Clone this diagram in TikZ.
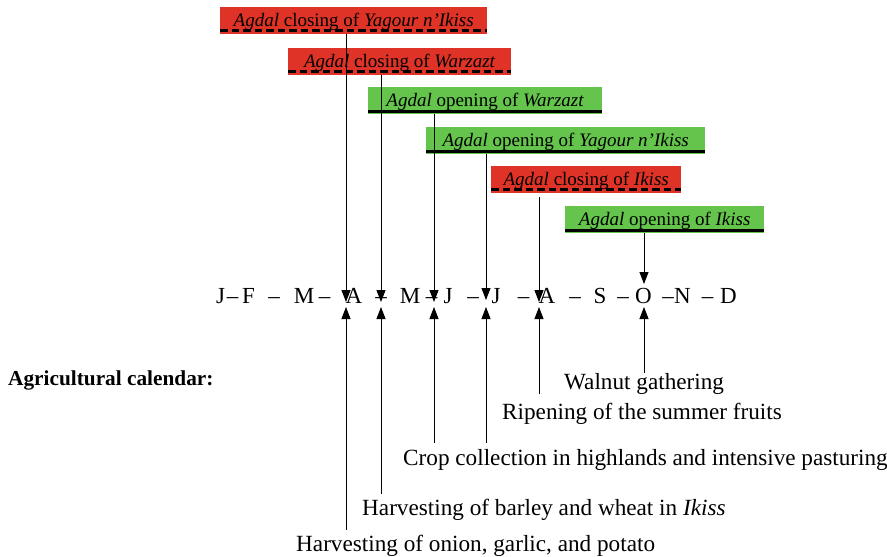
\documentclass[tikz,border=0pt]{standalone}
\usepackage{fontspec}
\setmainfont{Liberation Serif}
\usetikzlibrary{arrows.meta}
\definecolor{boxred}{RGB}{222,51,38}
\definecolor{boxgreen}{RGB}{100,196,76}
\begin{document}
\begin{tikzpicture}[x=1pt,y=-1pt,
 agbox/.style={anchor=north west, inner xsep=0pt, inner ysep=0pt, text height=19pt, text depth=8pt, font=\fontsize{19}{22}\selectfont},
 redbox/.style={agbox, fill=boxred},
 greenbox/.style={agbox, fill=boxgreen},
 dashline/.style={line width=3pt, dash pattern=on 7.5pt off 4pt},
 solidline/.style={line width=3pt},
 conn/.style={line width=0.9pt, -{Triangle[length=12pt,width=9pt]}},
 month/.style={anchor=base, inner sep=0pt, font=\fontsize{23}{26}\selectfont},
 lab/.style={anchor=base west, inner sep=0pt, font=\fontsize{23.2}{27}\selectfont}]
\useasboundingbox (0,0) rectangle (887,557);

% Agdal boxes
\node[redbox, minimum width=267pt] (b1) at (220,7) {\textit{Agdal} closing of \textit{Yagour n’Ikiss}};
\node[redbox, minimum width=223pt] (b2) at (288,48) {\textit{Agdal} closing of \textit{Warzazt}};
\node[greenbox, minimum width=234pt] (b3) at (368,87) {\textit{Agdal} opening of \textit{Warzazt}};
\node[greenbox, minimum width=279pt] (b4) at (426,127) {\textit{Agdal} opening of \textit{Yagour n’Ikiss}};
\node[redbox, minimum width=190pt] (b5) at (491,166) {\textit{Agdal} closing of \textit{Ikiss}};
\node[greenbox, minimum width=199pt] (b6) at (565,206) {\textit{Agdal} opening of \textit{Ikiss}};

\foreach \b in {b1,b2,b5}
  \draw[dashline] ([yshift=3.5pt]\b.south west) -- ([yshift=3.5pt]\b.south east);
\foreach \b in {b3,b4,b6}
  \draw[solidline] ([yshift=3pt]\b.south west) -- ([yshift=3pt]\b.south east);

% months
\node[month] (mJa) at (220.5,303) {J};
\node[month] (d1) at (232.5,303) {–};
\node[month] (mF) at (248.5,303) {F};
\node[month] (d2) at (274,303) {–};
\node[month] (mM) at (304,303) {M};
\node[month] (d3) at (324.5,303) {–};
\node[month] (mA) at (354,303) {A};
\node[month] (d4) at (381,303) {–};
\node[month] (mMy) at (410,303) {M};
\node[month] (d5) at (431.5,303) {–};
\node[month] (mJn) at (448,303) {J};
\node[month] (d6) at (473,303) {–};
\node[month] (mJl) at (496,303) {J};
\node[month] (d7) at (523.5,303) {–};
\node[month] (mAu) at (547,303) {A};
\node[month] (d8) at (575,303) {–};
\node[month] (mS) at (600,303) {S};
\node[month] (d9) at (623,303) {–};
\node[month] (mO) at (643.5,303) {O};
\node[month] (d10) at (668,303) {–};
\node[month] (mN) at (682.5,303) {N};
\node[month] (d11) at (707.5,303) {–};
\node[month] (mD) at (728.5,303) {D};

% arrow tips
\coordinate (t1) at (346,302);
\coordinate (t2) at (381,302);
\coordinate (t3) at (434,302);
\coordinate (t4) at (486,300);
\coordinate (t5) at (539,302);
\coordinate (t6) at (644,284);
\coordinate (u1) at (346,307);
\coordinate (u2) at (381,307);
\coordinate (u3) at (434,307);
\coordinate (u4) at (486,307);
\coordinate (u5) at (539,307);
\coordinate (u6) at (644,307);

% down arrows
\draw[conn] (b1.south -| t1) -- (t1);
\draw[conn] (b2.south -| t2) -- (t2);
\draw[conn] (b3.south -| t3) -- (t3);
\draw[conn] (b4.south -| t4) -- (t4);
\draw[conn, shorten <=4pt] (b5.south -| t5) -- (t5);
\draw[conn] (b6.south -| t6) -- (t6);

% agricultural labels
\node[anchor=base west, inner sep=0pt, font=\fontsize{21.3}{24}\selectfont\bfseries] (agcal) at (8,385) {Agricultural calendar:};
\node[lab] (walnut) at (564,389) {Walnut gathering};
\node[lab, outer ysep=9pt] (ripen) at (502,419) {Ripening of the summer fruits};
\node[lab, outer ysep=6pt] (crop) at (403,465) {Crop collection in highlands and intensive pasturing};
\node[lab, outer ysep=5pt] (barley) at (362,515) {Harvesting of barley and wheat in \textit{Ikiss}};
\node[lab, outer ysep=5pt] (onion) at (296,551) {Harvesting of onion, garlic, and potato};

% up arrows
\draw[conn] (onion.north -| u1) -- (u1);
\draw[conn] (barley.north -| u2) -- (u2);
\draw[conn] (crop.north -| u3) -- (u3);
\draw[conn] (crop.north -| u4) -- (u4);
\draw[conn] (ripen.north -| u5) -- (u5);
\draw[conn] (walnut.north -| u6) -- (u6);
\end{tikzpicture}
\end{document}
